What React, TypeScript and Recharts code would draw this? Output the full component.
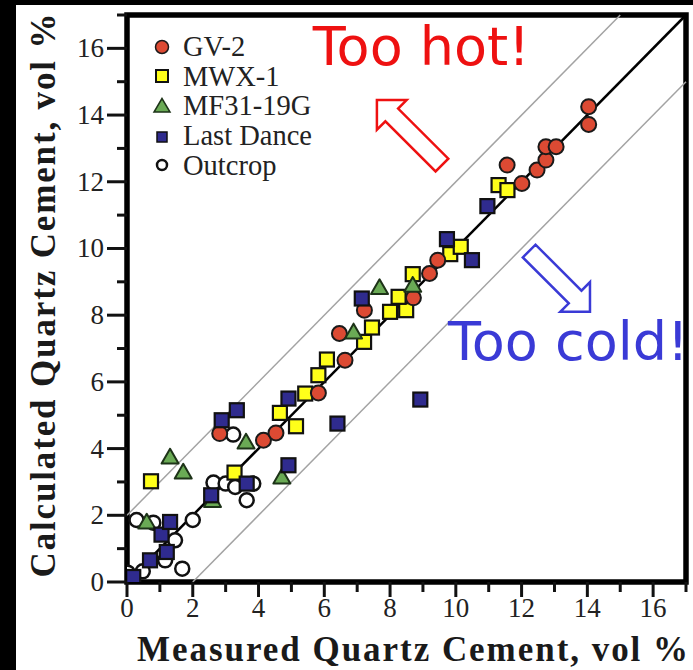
import React from 'react';
import {
  ScatterChart,
  Scatter,
  XAxis,
  YAxis,
  ReferenceLine,
  ReferenceArea,
  ReferenceDot,
  Label,
} from 'recharts';

// measured (x) vs calculated (y) quartz cement, vol %
const gv2 = [
  [2.82, 4.45], [4.15, 4.25], [4.53, 4.47], [5.82, 5.67], [6.63, 6.65], [6.46, 7.45],
  [7.22, 8.15], [8.71, 8.52], [9.2, 9.25], [9.45, 9.65], [11.56, 12.5], [12.01, 11.95],
  [12.47, 12.35], [12.74, 12.65], [12.74, 13.05], [13.05, 13.05], [14.04, 14.25], [14.04, 13.72],
];
const mwx1 = [
  [0.73, 3.02], [3.27, 3.28], [4.65, 5.07], [5.14, 4.67], [5.42, 5.65], [5.82, 6.2],
  [6.08, 6.67], [7.21, 7.2], [7.45, 7.63], [8.0, 8.1], [8.49, 8.15], [8.26, 8.55],
  [8.69, 9.23], [9.83, 9.83], [10.15, 10.05], [11.3, 11.9], [11.57, 11.75],
];
const mf31 = [
  [0.6, 1.75], [1.31, 3.7], [1.71, 3.25], [2.6, 2.4], [3.62, 4.15], [4.71, 3.1],
  [6.89, 7.45], [7.68, 8.78], [8.69, 8.85],
];
const lastDance = [
  [0.19, 0.15], [0.7, 0.65], [1.21, 0.9], [1.05, 1.42], [1.31, 1.8], [2.56, 2.6],
  [3.64, 2.95], [2.88, 4.85], [3.34, 5.15], [4.91, 5.5], [4.91, 3.5], [6.4, 4.75],
  [7.14, 8.5], [8.92, 5.47], [9.73, 10.28], [10.49, 9.65], [10.96, 11.27],
];
const outcrop = [
  [0.02, 0.28], [0.48, 0.32], [0.29, 1.86], [0.8, 1.78], [1.16, 0.65], [1.46, 1.25],
  [1.68, 0.4], [2.0, 1.86], [2.63, 2.98], [3.0, 2.95], [3.23, 4.42], [3.29, 2.85],
  [3.64, 2.45], [3.84, 2.95],
];

const axisTicks = [0, 1, 2, 3, 4, 5, 6, 7, 8, 9, 10, 11, 12, 13, 14, 15, 16, 17];
const seriesNames = ['GV-2', 'MWX-1', 'MF31-19G', 'Last Dance', 'Outcrop'];

const toPts = (arr: number[][]) => arr.map(([x, y]) => ({ x, y }));

const RED = '#dc4a33';
const YELLOW = '#ffff1a';
const GREEN = '#6aaa55';
const BLUE = '#2f2b8e';

const serif = '"Liberation Serif", "Times New Roman", serif';
const sans = '"DejaVu Sans", Verdana, sans-serif';

const circle = (fill: string, r: number, sw: number, stroke = '#1a1a1a') => (p: any) => (
  <circle cx={p.cx} cy={p.cy} r={r} fill={fill} stroke={stroke} strokeWidth={sw} />
);
const square = (fill: string, s: number, sw: number) => (p: any) => (
  <rect x={p.cx - s / 2} y={p.cy - s / 2} width={s} height={s} fill={fill} stroke="#111" strokeWidth={sw} />
);
const triangle = (fill: string, s: number, sw: number) => (p: any) => {
  const h = s * 0.87;
  const pts = `${p.cx},${p.cy - (h * 2) / 3} ${p.cx - s / 2},${p.cy + h / 3} ${p.cx + s / 2},${p.cy + h / 3}`;
  return <polygon points={pts} fill={fill} stroke="#1d3318" strokeWidth={sw} strokeLinejoin="round" />;
};

// hollow arrow, tip at (cx, cy), pointing along (dx, dy)
const arrow = (dx: number, dy: number, len: number, color: string) => (p: any) => {
  const n = Math.hypot(dx, dy);
  const ux = dx / n;
  const uy = dy / n;
  const px = -uy;
  const py = ux;
  const hl = 21;
  const hw = 21;
  const sw = 9;
  const tx = p.cx;
  const ty = p.cy;
  const bx = tx - ux * hl;
  const by = ty - uy * hl;
  const ex = tx - ux * len;
  const ey = ty - uy * len;
  const pts = [
    [tx, ty],
    [bx + px * hw, by + py * hw],
    [bx + px * sw, by + py * sw],
    [ex + px * sw, ey + py * sw],
    [ex - px * sw, ey - py * sw],
    [bx - px * sw, by - py * sw],
    [bx - px * hw, by - py * hw],
  ]
    .map((q) => q.join(','))
    .join(' ');
  return <polygon points={pts} fill="#fff" stroke={color} strokeWidth={2.5} strokeLinejoin="miter" />;
};

const words = (text: string, color: string) => (p: any) => (
  <text x={p.cx} y={p.cy} fill={color} fontFamily={sans} fontSize={54}>
    {text}
  </text>
);

// plot frame drawn as one rect from the chart's own scale positions
const frameBox = (p: any) => {
  const { x, y, width, height } = p;
  return <rect x={x} y={y} width={width} height={height} fill="none" stroke="#000" strokeWidth={5.5} />;
};

const XTick = (props: any) => {
  const { x, y, payload } = props;
  const major = payload.value % 2 === 0;
  return (
    <g>
      <line x1={x} x2={x} y1={y} y2={y + (major ? 15 : 10)} stroke="#111" strokeWidth={3} />
      {major && (
        <text x={x} y={y + 35} textAnchor="middle" fontFamily={serif} fontSize={27} fill="#222">
          {payload.value}
        </text>
      )}
    </g>
  );
};

const YTick = (props: any) => {
  const { x, y, payload } = props;
  const major = payload.value % 2 === 0;
  return (
    <g>
      <line x1={x - (major ? 20 : 10)} x2={x} y1={y} y2={y} stroke="#111" strokeWidth={3} />
      {major && (
        <text x={x - 23} y={y + 9} textAnchor="end" fontFamily={serif} fontSize={27} fill="#222">
          {payload.value}
        </text>
      )}
    </g>
  );
};

const legendMarkers = [
  <circle cx={12} cy={12} r={6.5} fill={RED} stroke="#1a1a1a" strokeWidth={1.5} />,
  <rect x={6} y={6} width={12} height={12} fill={YELLOW} stroke="#111" strokeWidth={2} />,
  <polygon points="12,4.5 4,18 20,18" fill={GREEN} stroke="#1d3318" strokeWidth={1.5} />,
  <rect x={7} y={8} width={10} height={10} fill={BLUE} stroke="#111" strokeWidth={1.5} />,
  <circle cx={12} cy={12} r={5} fill="#fff" stroke="#111" strokeWidth={2.5} />,
];

export default function App() {
  return (
    <div style={{ position: 'absolute', left: 0, top: 0, width: 693, height: 670, background: '#000' }}>
      <div style={{ position: 'absolute', left: 16, top: 5, right: 0, bottom: 0, background: '#fff' }} />
      <div style={{ position: 'absolute', left: 0, top: 0 }}>
        <ScatterChart width={693} height={670} margin={{ top: 15, right: 7, left: 0, bottom: 0 }}>
          <XAxis
            type="number"
            dataKey="x"
            domain={[0, 17]}
            ticks={axisTicks}
            interval={0}
            height={88}
            tickSize={0}
            tickMargin={0}
            axisLine={false}
            tick={<XTick />}
            allowDataOverflow
          >
            <Label
              content={(p: any) => (
                <text
                  x={p.viewBox.x + p.viewBox.width / 2 + 6}
                  y={p.viewBox.y + 79}
                  textAnchor="middle"
                  fontFamily={serif}
                  fontWeight="bold"
                  fontSize={35}
                  fill="#1a1a1a"
                  textLength={551}
                  lengthAdjust="spacing"
                >
                  Measured Quartz Cement, vol %
                </text>
              )}
            />
          </XAxis>
          <YAxis
            type="number"
            dataKey="y"
            domain={[0, 17]}
            ticks={axisTicks}
            interval={0}
            width={127}
            tickSize={0}
            tickMargin={0}
            axisLine={false}
            tick={<YTick />}
            allowDataOverflow
          >
            <Label
              content={(p: any) => {
                const cx = 55;
                const cy = p.viewBox.y + p.viewBox.height / 2 - 3;
                return (
                  <text
                    x={cx}
                    y={cy}
                    transform={`rotate(-90 ${cx} ${cy})`}
                    textAnchor="middle"
                    fontFamily={serif}
                    fontWeight="bold"
                    fontSize={35}
                    fill="#1a1a1a"
                    textLength={564}
                    lengthAdjust="spacing"
                  >
                    Calculated Quartz Cement, vol %
                  </text>
                );
              }}
            />
          </YAxis>

          <ReferenceLine segment={[{ x: 0, y: 2 }, { x: 15, y: 17 }]} stroke="#a3a3a3" strokeWidth={1.5} />
          <ReferenceLine segment={[{ x: 2, y: 0 }, { x: 17, y: 15 }]} stroke="#a3a3a3" strokeWidth={1.5} />
          <ReferenceLine segment={[{ x: 0, y: 0 }, { x: 17, y: 17 }]} stroke="#000" strokeWidth={2.5} />

          <ReferenceDot x={7.6} y={14.45} r={1} shape={arrow(-1, -1, 92, '#ee1111')} />
          <ReferenceDot x={14.08} y={8.1} r={1} shape={arrow(1, 1, 86, '#3a3ad6')} />
          <ReferenceDot x={5.65} y={15.5} r={1} shape={words('Too hot!', '#ee1111')} />
          <ReferenceDot x={9.76} y={6.66} r={1} shape={words('Too cold!', '#3a3ad6')} />

          <Scatter name="Outcrop" data={toPts(outcrop)} shape={circle('#fff', 7, 2.5, '#111')} isAnimationActive={false} />
          <Scatter name="MWX-1" data={toPts(mwx1)} shape={square(YELLOW, 14, 2.2)} isAnimationActive={false} />
          <Scatter name="GV-2" data={toPts(gv2)} shape={circle(RED, 7.5, 2)} isAnimationActive={false} />
          <Scatter name="MF31-19G" data={toPts(mf31)} shape={triangle(GREEN, 17, 2)} isAnimationActive={false} />
          <Scatter name="Last Dance" data={toPts(lastDance)} shape={square(BLUE, 14, 2.2)} isAnimationActive={false} />

          <ReferenceArea x1={0} x2={17} y1={0} y2={17} ifOverflow="visible" shape={frameBox} />
        </ScatterChart>
      </div>

      {/* legend box in the top-left corner of the plot */}
      <div style={{ position: 'absolute', left: 150, top: 32 }}>
        {seriesNames.map((name, i) => (
          <div key={name} style={{ display: 'flex', alignItems: 'center', height: 29.6 }}>
            <svg width={24} height={24}>{legendMarkers[i]}</svg>
            <span style={{ marginLeft: 9, fontFamily: serif, fontSize: 28.5, color: '#222', lineHeight: '29px' }}>
              {name}
            </span>
          </div>
        ))}
      </div>
    </div>
  );
}
